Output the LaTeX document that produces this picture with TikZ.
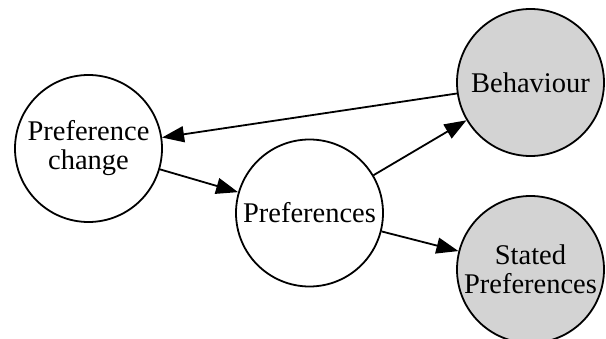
\documentclass[tikz,border=0pt]{standalone}
\usepackage{fontspec}
\setmainfont{Liberation Serif}
\usetikzlibrary{arrows.meta}
\definecolor{lightgrey}{HTML}{D3D3D3}

\tikzset{
  state/.style={circle, draw, line width=1.8pt, minimum size=147pt, inner sep=0pt,
    align=center, font=\fontsize{28.5}{29}\selectfont},
  observed/.style={state, fill=lightgrey},
  edge/.style={line width=1.8pt, -{Triangle[length=22pt,width=16pt]}}
}

\begin{document}
\begin{tikzpicture}[x=1pt, y=-1pt]
    \useasboundingbox (0,0) rectangle (606,339);
    % Nodes
    \node [state] (change) at (88.5, 148.5) {Preference\\change};
    \node [state] (prefs) at (309.5, 213) {Preferences};
    \node [observed] (behav) at (530.5, 82.5) {Behaviour};
    \node [observed] (stated) at (530.5, 269.5) {Stated\\Preferences};
    % Edges
    \draw [edge] (behav) -- (change);
    \draw [edge] (change) -- (prefs);
    \draw [edge] (prefs) -- (behav);
    \draw [edge] (prefs) -- (stated);
\end{tikzpicture}
\end{document}
